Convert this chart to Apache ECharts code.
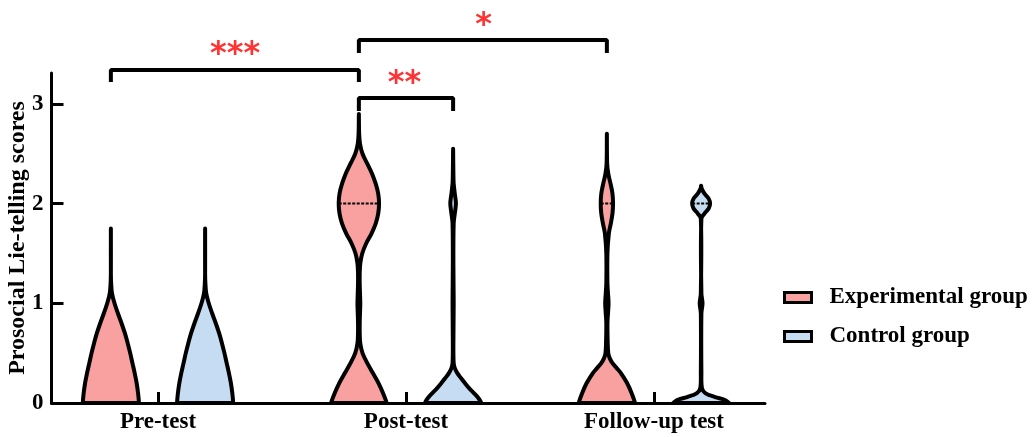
<!DOCTYPE html>
<html>
<head>
<meta charset="utf-8">
<script src="https://cdn.jsdelivr.net/npm/echarts@6/dist/echarts.min.js"></script>
<style>
html,body{margin:0;padding:0;background:#fff;}
#chart{width:1036px;height:437px;}
</style>
</head>
<body>
<div id="chart"></div>
<script>
// ---- data ----
const categories = ['Pre-test', 'Post-test', 'Follow-up test'];
const groups = ['Experimental group', 'Control group'];
const yTicks = [0, 1, 2, 3];
const xTicks = [1, 2, 3];

// violin outlines: [score, relative density]
const preExp = [[0,1],[0.1,0.97],[0.2,0.92],[0.3,0.85],[0.4,0.77],[0.5,0.69],[0.6,0.6],[0.7,0.5],[0.8,0.38],[0.9,0.25],[1.0,0.13],[1.1,0.04],[1.2,0.01],[1.3,0],[1.75,0]];
const preCtrl = [[0,1],[0.1,0.97],[0.2,0.92],[0.3,0.85],[0.4,0.77],[0.5,0.69],[0.6,0.6],[0.7,0.5],[0.8,0.38],[0.9,0.25],[1.0,0.13],[1.1,0.04],[1.2,0.01],[1.3,0],[1.75,0]];
const postExp = [[0,0.99],[0.1,0.86],[0.2,0.7],[0.3,0.5],[0.4,0.3],[0.5,0.13],[0.6,0.05],[0.7,0.03],[0.8,0.03],[0.9,0.04],[1.0,0.05],[1.1,0.04],[1.2,0.03],[1.3,0.03],[1.4,0.05],[1.5,0.12],[1.6,0.26],[1.7,0.45],[1.8,0.6],[1.9,0.69],[2.0,0.72],[2.1,0.69],[2.2,0.6],[2.3,0.47],[2.4,0.3],[2.5,0.13],[2.6,0.04],[2.7,0.01],[2.9,0]];
const postCtrl = [[0,1],[0.05,0.9],[0.1,0.74],[0.15,0.57],[0.2,0.42],[0.25,0.28],[0.3,0.15],[0.35,0.06],[0.4,0.02],[0.6,0.01],[1.0,0.02],[1.4,0.01],[1.8,0.02],[1.9,0.06],[2.0,0.1],[2.1,0.06],[2.2,0.02],[2.3,0.01],[2.55,0]];
const fuExp = [[0,1],[0.1,0.88],[0.2,0.72],[0.3,0.5],[0.35,0.35],[0.4,0.2],[0.45,0.1],[0.5,0.05],[0.6,0.03],[0.8,0.02],[0.9,0.04],[1.0,0.06],[1.1,0.04],[1.2,0.02],[1.5,0.02],[1.7,0.07],[1.8,0.14],[1.9,0.2],[2.0,0.22],[2.1,0.2],[2.2,0.13],[2.3,0.05],[2.4,0.01],[2.7,0]];
const fuCtrl = [[0,1],[0.03,0.85],[0.06,0.5],[0.1,0.15],[0.15,0.03],[0.3,0.01],[0.9,0.01],[1.0,0.05],[1.1,0.01],[1.85,0.01],[1.9,0.12],[1.95,0.27],[2.0,0.32],[2.05,0.27],[2.1,0.12],[2.15,0.02],[2.18,0]];

const violinsExp = [preExp, postExp, fuExp];
const violinsCtrl = [preCtrl, postCtrl, fuCtrl];
const medianExp = [null, 2, 2];
const medianCtrl = [null, null, 2];

// significance brackets: [from x, to x, bar level, leg bottom], labels
const brackets = [[0.81, 1.81, 3.34, 3.22], [1.81, 2.81, 3.64, 3.51], [1.81, 2.19, 3.06, 2.93]];
const stars = [[1.311, 3.49, '***'], [2.313, 3.78, '*'], [1.994, 3.20, '**']];

// ---- styles ----
const fills = ['#F9A0A0', '#C6DCF2'];
const offsets = [-0.19, 0.19];
const halfW = 0.113;
const serif = '"Liberation Serif", "Times New Roman", serif';

function densityAt(prof, y) {
  for (let i = 0; i < prof.length - 1; i++) {
    if (y >= prof[i][0] && y <= prof[i+1][0]) {
      const t = (y - prof[i][0]) / (prof[i+1][0] - prof[i][0] || 1);
      return prof[i][1] + t * (prof[i+1][1] - prof[i][1]);
    }
  }
  return 0;
}

function makeViolinSeries(gi, profiles, medians) {
  return {
    type: 'custom',
    name: groups[gi],
    itemStyle: { color: fills[gi], borderColor: '#000', borderWidth: 3 },
    data: xTicks.map(x => [x]),
    clip: false,
    z: 3,
    renderItem: function (params, api) {
      const prof = profiles[params.dataIndex];
      const xc = api.value(0) + offsets[gi];
      const right = prof.map(p => api.coord([xc + p[1] * halfW, p[0]]));
      const left = prof.slice().reverse().map(p => api.coord([xc - p[1] * halfW, p[0]]));
      const pts = right.concat(left);
      let minX = Infinity, minY = Infinity, maxX = -Infinity, maxY = -Infinity;
      pts.forEach(p => { minX = Math.min(minX, p[0]); maxX = Math.max(maxX, p[0]); minY = Math.min(minY, p[1]); maxY = Math.max(maxY, p[1]); });
      const children = [{
        type: 'polygon',
        shape: { points: pts, smooth: 0.35, smoothConstraint: [[minX, minY], [maxX, maxY]] },
        style: { fill: fills[gi], stroke: '#000', lineWidth: 4, lineJoin: 'round' }
      }];
      const m = medians[params.dataIndex];
      if (m !== null) {
        const d = densityAt(prof, m);
        const a = api.coord([xc - d * halfW, m]);
        const b = api.coord([xc + d * halfW, m]);
        children.push({
          type: 'line',
          shape: { x1: a[0], y1: a[1], x2: b[0], y2: b[1] },
          style: { stroke: '#000', lineWidth: 2, lineDash: [3, 1.5] }
        });
      }
      return { type: 'group', children: children };
    }
  };
}

const bracketSeries = brackets.map(b => ({
  type: 'line',
  data: [[b[0], b[3]], [b[0], b[2]], [b[1], b[2]], [b[1], b[3]]],
  symbol: 'none',
  clip: false,
  silent: true,
  lineStyle: { color: '#000', width: 4 },
  z: 4
}));

const starSeries = {
  type: 'scatter',
  data: stars.map(s => [s[0], s[1], s[2]]),
  symbolSize: 0,
  clip: false,
  silent: true,
  label: {
    show: true,
    position: 'inside',
    formatter: p => p.value[2],
    color: '#FF0000',
    fontSize: 32,
    fontWeight: 'bold',
    fontFamily: '"DejaVu Sans", sans-serif'
  },
  z: 5
};

const chart = echarts.init(document.getElementById('chart'), null, { renderer: 'canvas' });
chart.setOption({
  animation: false,
  backgroundColor: '#fff',
  grid: { left: 51.5, right: 271, top: 73, bottom: 34, containLabel: false, outerBoundsMode: 'none' },
  legend: {
    data: groups,
    orient: 'vertical',
    left: 778,
    top: 281,
    icon: 'rect',
    itemWidth: 27,
    itemHeight: 10,
    itemGap: 16,
    itemStyle: { borderColor: '#000', borderWidth: 3 },
    textStyle: { fontFamily: serif, fontWeight: 'bold', fontSize: 23, color: '#000', padding: [0, 0, 0, 13] }
  },
  xAxis: {
    type: 'value',
    min: 0.5706,
    max: 3.4476,
    splitLine: { show: false },
    axisLine: { lineStyle: { color: '#000', width: 3 } },
    axisTick: { inside: true, length: 11, customValues: xTicks, lineStyle: { color: '#000', width: 3 } },
    axisLabel: {
      customValues: xTicks,
      formatter: v => categories[Math.round(v) - 1],
      margin: 8,
      color: '#000', fontFamily: serif, fontWeight: 'bold', fontSize: 23
    }
  },
  yAxis: {
    type: 'value',
    min: 0,
    max: 3.31,
    interval: 1,
    name: 'Prosocial Lie-telling scores',
    nameLocation: 'middle',
    nameGap: 22,
    nameMoveOverlap: false,
    nameTextStyle: { fontFamily: serif, fontWeight: 'bold', fontSize: 24, color: '#000' },
    splitLine: { show: false },
    axisLine: { show: true, lineStyle: { color: '#000', width: 3 } },
    axisTick: { show: true, inside: true, length: 12, customValues: yTicks, lineStyle: { color: '#000', width: 3 } },
    axisLabel: { customValues: yTicks, margin: 8, color: '#000', fontFamily: serif, fontWeight: 'bold', fontSize: 23 }
  },
  series: [
    makeViolinSeries(0, violinsExp, medianExp),
    makeViolinSeries(1, violinsCtrl, medianCtrl)
  ].concat(bracketSeries).concat([starSeries])
});
</script>
</body>
</html>
